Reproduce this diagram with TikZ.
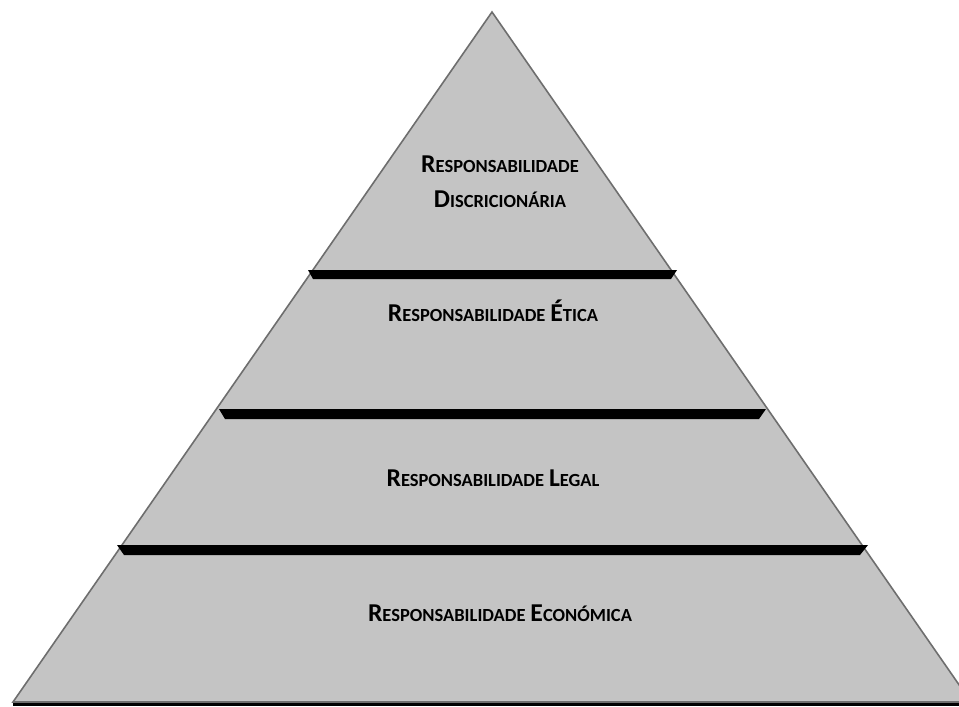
\documentclass[tikz,border=0pt]{standalone}
\usepackage{fontspec}
\setmainfont{Carlito}
\usetikzlibrary{positioning}

\definecolor{tierfill}{RGB}{196,196,196}
\definecolor{tieredge}{RGB}{110,110,110}

% word in small caps: first letter full size, rest smaller
\newcommand{\scword}[2]{{\fontsize{25.7}{30}\selectfont #1}{\fontsize{18.5}{22}\selectfont #2}}

\begin{document}
\begin{tikzpicture}[x=1pt,y=-1pt,
    tiertext/.style={font=\fontsize{22}{26}\selectfont\bfseries, inner sep=0pt, anchor=base, text=black},
    bar/.style={fill=black, draw=none}]
    \useasboundingbox (0,0) rectangle (959,707);
    \clip (0,0) rectangle (959,707);

    % Pyramid
    \fill [black] (13,703) rectangle (975,706);
    \draw [fill=tierfill, draw=tieredge, line width=1.6pt, line join=miter]
        (492,12) -- (971,702) -- (13,702) -- cycle;

    % Dividing bars
    \fill [bar] (308,270) -- (677,270) -- (671,279) -- (313,279) -- cycle;
    \fill [bar] (219,409) -- (766,409) -- (759,419) -- (225,419) -- cycle;
    \fill [bar] (117,545) -- (868,545) -- (860,555) -- (124,555) -- cycle;

    % Levels
    \node (discr1) [tiertext] at (500,172) {\scword{R}{ESPONSABILIDADE}};
    \node (discr2) [tiertext] at (500,207) {\scword{D}{ISCRICIONÁRIA}};
    \node (etica) [tiertext] at (493,321) {\scword{R}{ESPONSABILIDADE} \scword{É}{TICA}};
    \node (legal) [tiertext] at (493,486) {\scword{R}{ESPONSABILIDADE} \scword{L}{EGAL}};
    \node (econ) [tiertext] at (500,621) {\scword{R}{ESPONSABILIDADE} \scword{E}{CONÓMICA}};

\end{tikzpicture}
\end{document}
